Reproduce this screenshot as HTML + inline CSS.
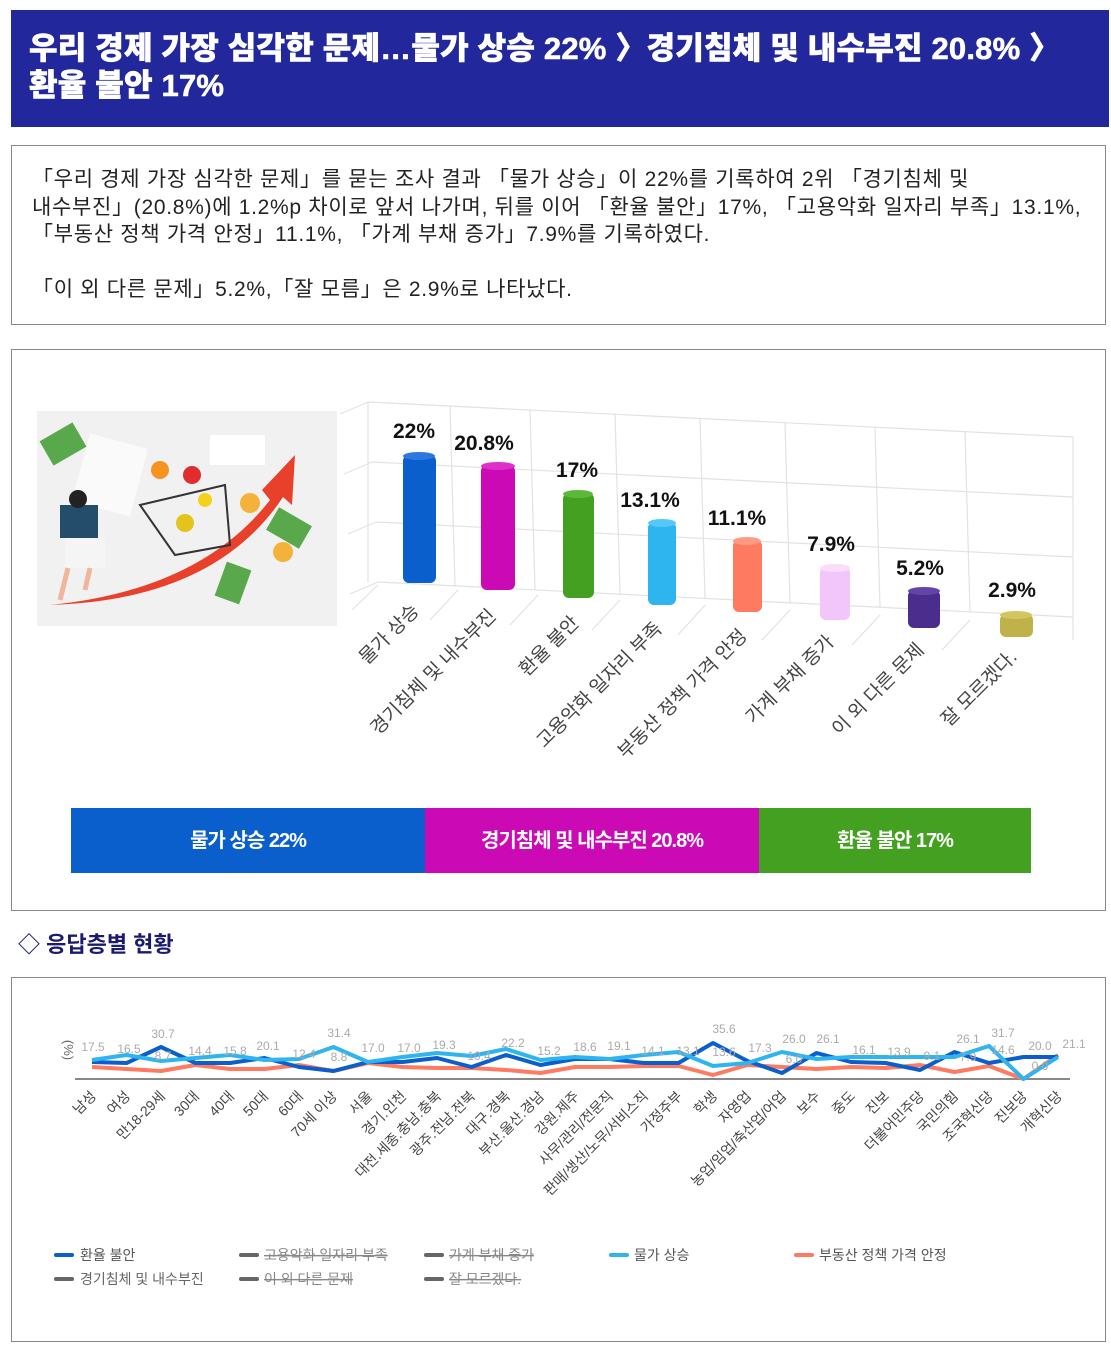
<!DOCTYPE html>
<html><head><meta charset="utf-8"><style>
body{margin:0;width:1111px;height:1351px;background:#fff;font-family:"Liberation Sans","Noto Sans CJK KR",sans-serif;position:relative;overflow:hidden}
.hdr{position:absolute;left:11px;top:10px;width:1098px;height:117px;background:#22279b;color:#fff;font-weight:900;font-size:31px;line-height:37px;box-sizing:border-box;padding:20px 0 0 18px;letter-spacing:0.2px;-webkit-text-stroke:0.6px #fff}
.box{position:absolute;border:1px solid #888;box-sizing:border-box}
.txt{left:11px;top:145px;width:1095px;height:180px;padding:20px 20px;font-size:21px;line-height:27.5px;color:#222;letter-spacing:0.7px}
svg text{font-family:"Liberation Sans","Noto Sans CJK KR",sans-serif}
</style></head><body>
<div class="hdr">우리 경제 가장 심각한 문제…물가 상승 22% 〉경기침체 및 내수부진 20.8% 〉<br>환율 불안 17%</div>
<div class="box txt">「우리 경제 가장 심각한 문제」를 묻는 조사 결과 「물가 상승」이 22%를 기록하여 2위 「경기침체 및<br>내수부진」(20.8%)에 1.2%p 차이로 앞서 나가며, 뒤를 이어 「환율 불안」17%, 「고용악화 일자리 부족」13.1%,<br>「부동산 정책 가격 안정」11.1%, 「가계 부채 증가」7.9%를 기록하였다.<br><br>「이 외 다른 문제」5.2%,「잘 모름」은 2.9%로 나타났다.</div>
<div class="box" style="left:11px;top:349px;width:1095px;height:562px"></div>
<div class="box" style="left:11px;top:977px;width:1095px;height:365px"></div>
<svg width="1111" height="1351" style="position:absolute;left:0;top:0">
<rect x="37" y="411" width="300" height="215" fill="#f1f1f1"/>
<path d="M50 605 Q200 590 270 500 L262 490 L295 455 L292 505 L283 497 Q215 600 50 605Z" fill="#e8402a"/>
<rect x="44" y="430" width="38" height="28" fill="#5aa84c" transform="rotate(-30 63 444)"/>
<rect x="270" y="515" width="38" height="26" fill="#5aa84c" transform="rotate(30 289 528)"/>
<rect x="220" y="565" width="26" height="36" fill="#5aa84c" transform="rotate(20 233 583)"/>
<circle cx="250" cy="503" r="10" fill="#f4b23a"/><circle cx="283" cy="552" r="10" fill="#f4b23a"/>
<rect x="210" y="435" width="55" height="30" fill="#fff"/>
<rect x="80" y="440" width="60" height="70" fill="#fafafa" transform="rotate(15 110 475)"/>
<path d="M140 505 L225 485 L230 545 L175 555Z" fill="none" stroke="#333" stroke-width="2"/>
<circle cx="160" cy="470" r="9" fill="#f7931e"/><circle cx="192" cy="475" r="9" fill="#e02e2e"/><circle cx="185" cy="523" r="9" fill="#e2c41a"/><circle cx="205" cy="500" r="7" fill="#f2d21c"/>
<rect x="60" y="505" width="38" height="33" fill="#244c6b"/>
<circle cx="78" cy="499" r="9" fill="#222"/>
<rect x="65" y="538" width="40" height="30" fill="#f5f5f5"/>
<path d="M68 568 L60 600 M90 568 L85 590" stroke="#f2b49a" stroke-width="5"/>
<g stroke="#e2e2e2" stroke-width="1.2" fill="none">
<path d="M368 402 L1073 437 M372 462 L1073 497 M376 522 L1073 557 M378 582 L1073 617"/>
<path d="M368 402 L368 582 M368 402 L340 414 M372 462 L344 474 M376 522 L348 534 M378 582 L350 594"/>
<path d="M450 406 L455 586 M530 410 L535 590 M615 414 L620 594 M700 418 L705 598 M785 423 L790 603 M875 427 L880 607 M965 432 L970 612 M1073 437 L1073 640"/>
<path d="M378 585 L352 610 M458 590 L430 620 M538 595 L510 625 M620 600 L592 630 M705 605 L678 635 M790 610 L762 640 M880 615 L852 645 M970 620 L942 650"/>
</g>
<g>
<rect x="403" y="455" width="33" height="128" rx="6" fill="#0a5fcc"/><ellipse cx="419" cy="456" rx="16" ry="4" fill="#2a78e0"/>
<rect x="481" y="465" width="34" height="125" rx="6" fill="#cc0ab5"/><ellipse cx="498" cy="466" rx="17" ry="4" fill="#dd30c8"/>
<rect x="563" y="493" width="31" height="105" rx="6" fill="#44a020"/><ellipse cx="578" cy="494" rx="15" ry="4" fill="#5cb83a"/>
<rect x="648" y="522" width="28" height="83" rx="6" fill="#2eb4ee"/><ellipse cx="662" cy="523" rx="14" ry="4" fill="#55c8fa"/>
<rect x="733" y="540" width="29" height="72" rx="6" fill="#fe7a60"/><ellipse cx="747" cy="541" rx="14" ry="4" fill="#ff9a85"/>
<rect x="820" y="567" width="30" height="53" rx="6" fill="#f3c6fb"/><ellipse cx="835" cy="568" rx="15" ry="4" fill="#fadcfd"/>
<rect x="908" y="590" width="32" height="38" rx="6" fill="#4a2d8c"/><ellipse cx="924" cy="591" rx="16" ry="4" fill="#6444a8"/>
<rect x="1000" y="614" width="33" height="23" rx="6" fill="#c0b24a"/><ellipse cx="1016" cy="615" rx="16" ry="4" fill="#d2c65e"/>
</g>
<g font-size="21" font-weight="bold" fill="#111" text-anchor="middle">
<text x="414" y="438">22%</text><text x="484" y="450">20.8%</text><text x="577" y="477">17%</text><text x="650" y="507">13.1%</text><text x="737" y="525">11.1%</text><text x="831" y="551">7.9%</text><text x="920" y="575">5.2%</text><text x="1012" y="597">2.9%</text>
</g>
<g font-size="19" fill="#444" text-anchor="end">
<text transform="translate(420 612) rotate(-45)">물가 상승</text>
<text transform="translate(497 617) rotate(-45)">경기침체 및 내수부진</text>
<text transform="translate(580 624) rotate(-45)">환율 불안</text>
<text transform="translate(663 630) rotate(-45)">고용악화 일자리 부족</text>
<text transform="translate(748 637) rotate(-45)">부동산 정책 가격 안정</text>
<text transform="translate(835 643) rotate(-45)">가계 부채 증가</text>
<text transform="translate(925 651) rotate(-45)">이 외 다른 문제</text>
<text transform="translate(1018 658) rotate(-45)">잘 모르겠다.</text>
</g>
<rect x="71" y="808" width="354" height="65" fill="#0a5fcc"/>
<rect x="425" y="808" width="334" height="65" fill="#cc0ab5"/>
<rect x="759" y="808" width="272" height="65" fill="#44a020"/>
<g font-size="20" font-weight="bold" fill="#fff" text-anchor="middle" letter-spacing="-1">
<text x="248" y="847">물가 상승 22%</text><text x="592" y="847">경기침체 및 내수부진 20.8%</text><text x="895" y="847">환율 불안 17%</text>
</g>
<text x="18" y="952" font-size="22" font-weight="bold" fill="#1a1a6e">◇ 응답층별 현황</text>
<text transform="translate(64 1050) rotate(90)" font-size="13" fill="#666" text-anchor="middle">(%)</text>
<line x1="75" y1="1079" x2="1070" y2="1079" stroke="#888" stroke-width="2"/>
<g fill="none" stroke-width="4" stroke-linejoin="round">
<polyline stroke="#fe7a60" points="92,1067 126.5,1069 161,1071 195.5,1065 230,1069 264.5,1069 299,1065 333.5,1071 368,1063 402.5,1067 437,1068 471.5,1068 506,1070 540.5,1073 575,1067 609.5,1067 644,1066 678.5,1066 713,1075 747.5,1065 782,1067 816.5,1069 851,1067 885.5,1068 920,1065 954.5,1072 989,1066 1023.5,1079 1058,1055"/>
<polyline stroke="#0a5fcc" points="92,1062 126.5,1063 161,1047 195.5,1063 230,1063 264.5,1058 299,1067 333.5,1071 368,1062 402.5,1062 437,1058 471.5,1067 506,1055 540.5,1065 575,1059 609.5,1059 644,1063 678.5,1063 713,1043 747.5,1061 782,1073 816.5,1053 851,1062 885.5,1063 920,1070 954.5,1052 989,1063 1023.5,1057 1058,1057"/>
<polyline stroke="#2eb4ee" points="92,1060 126.5,1055 161,1061 195.5,1058 230,1055 264.5,1060 299,1059 333.5,1047 368,1062 402.5,1057 437,1053 471.5,1056 506,1049 540.5,1060 575,1057 609.5,1059 644,1055 678.5,1052 713,1066 747.5,1063 782,1052 816.5,1059 851,1057 885.5,1057 920,1057 954.5,1057 989,1046 1023.5,1079 1058,1057"/>
</g>
<g font-size="12" fill="#aaa" text-anchor="middle">
<text x="93" y="1051">17.5</text><text x="129" y="1053">16.5</text><text x="163" y="1038">30.7</text><text x="163" y="1060">8.7</text><text x="200" y="1055">14.4</text><text x="235" y="1055">15.8</text><text x="268" y="1050">20.1</text><text x="304" y="1058">12.4</text><text x="339" y="1037">31.4</text><text x="339" y="1061">8.8</text><text x="373" y="1052">17.0</text><text x="409" y="1052">17.0</text><text x="444" y="1049">19.3</text><text x="479" y="1060">10.4</text><text x="513" y="1047">22.2</text><text x="549" y="1055">15.2</text><text x="585" y="1051">18.6</text><text x="619" y="1050">19.1</text><text x="653" y="1055">14.1</text><text x="688" y="1055">13.1</text><text x="724" y="1033">35.6</text><text x="724" y="1056">13.6</text><text x="760" y="1052">17.3</text><text x="794" y="1043">26.0</text><text x="794" y="1063">6.0</text><text x="828" y="1043">26.1</text><text x="864" y="1054">16.1</text><text x="899" y="1056">13.9</text><text x="932" y="1060">9.1</text><text x="968" y="1043">26.1</text><text x="968" y="1061">7.9</text><text x="1003" y="1037">31.7</text><text x="1003" y="1054">14.6</text><text x="1040" y="1050">20.0</text><text x="1040" y="1070">0.0</text><text x="1074" y="1048">21.1</text>
</g>
<g font-size="14" fill="#444" text-anchor="end">
<text transform="translate(97 1097) rotate(-45)">남성</text>
<text transform="translate(131 1097) rotate(-45)">여성</text>
<text transform="translate(166 1097) rotate(-45)">만18-29세</text>
<text transform="translate(200 1097) rotate(-45)">30대</text>
<text transform="translate(235 1097) rotate(-45)">40대</text>
<text transform="translate(269 1097) rotate(-45)">50대</text>
<text transform="translate(304 1097) rotate(-45)">60대</text>
<text transform="translate(338 1097) rotate(-45)">70세 이상</text>
<text transform="translate(373 1097) rotate(-45)">서울</text>
<text transform="translate(407 1097) rotate(-45)">경기.인천</text>
<text transform="translate(442 1097) rotate(-45)">대전.세종.충남.충북</text>
<text transform="translate(476 1097) rotate(-45)">광주.전남.전북</text>
<text transform="translate(511 1097) rotate(-45)">대구.경북</text>
<text transform="translate(545 1097) rotate(-45)">부산.울산.경남</text>
<text transform="translate(580 1097) rotate(-45)">강원.제주</text>
<text transform="translate(614 1097) rotate(-45)">사무/관리/전문직</text>
<text transform="translate(649 1097) rotate(-45)">판매/생산/노무/서비스직</text>
<text transform="translate(683 1097) rotate(-45)">가정주부</text>
<text transform="translate(718 1097) rotate(-45)">학생</text>
<text transform="translate(752 1097) rotate(-45)">자영업</text>
<text transform="translate(787 1097) rotate(-45)">농업/임업/축산업/어업</text>
<text transform="translate(821 1097) rotate(-45)">보수</text>
<text transform="translate(856 1097) rotate(-45)">중도</text>
<text transform="translate(890 1097) rotate(-45)">진보</text>
<text transform="translate(925 1097) rotate(-45)">더불어민주당</text>
<text transform="translate(959 1097) rotate(-45)">국민의힘</text>
<text transform="translate(994 1097) rotate(-45)">조국혁신당</text>
<text transform="translate(1028 1097) rotate(-45)">진보당</text>
<text transform="translate(1063 1097) rotate(-45)">개혁신당</text>
</g>
<g font-size="14" fill="#555" stroke-width="4" stroke-linecap="round">
<line x1="56" y1="1255" x2="72" y2="1255" stroke="#0a5fcc"/><text x="80" y="1260">환율 불안</text>
<line x1="241" y1="1255" x2="257" y2="1255" stroke="#666"/><text x="264" y="1260" fill="#888" text-decoration="line-through">고용악화 일자리 부족</text>
<line x1="426" y1="1255" x2="442" y2="1255" stroke="#666"/><text x="449" y="1260" fill="#888" text-decoration="line-through">가계 부채 증가</text>
<line x1="611" y1="1255" x2="627" y2="1255" stroke="#2eb4ee"/><text x="634" y="1260">물가 상승</text>
<line x1="796" y1="1255" x2="812" y2="1255" stroke="#fe7a60"/><text x="819" y="1260">부동산 정책 가격 안정</text>
<line x1="56" y1="1279" x2="72" y2="1279" stroke="#666"/><text x="80" y="1284" fill="#666">경기침체 및 내수부진</text>
<line x1="241" y1="1279" x2="257" y2="1279" stroke="#666"/><text x="264" y="1284" fill="#888" text-decoration="line-through">이 외 다른 문제</text>
<line x1="426" y1="1279" x2="442" y2="1279" stroke="#666"/><text x="449" y="1284" fill="#888" text-decoration="line-through">잘 모르겠다.</text>
</g>
</svg>
</body></html>
